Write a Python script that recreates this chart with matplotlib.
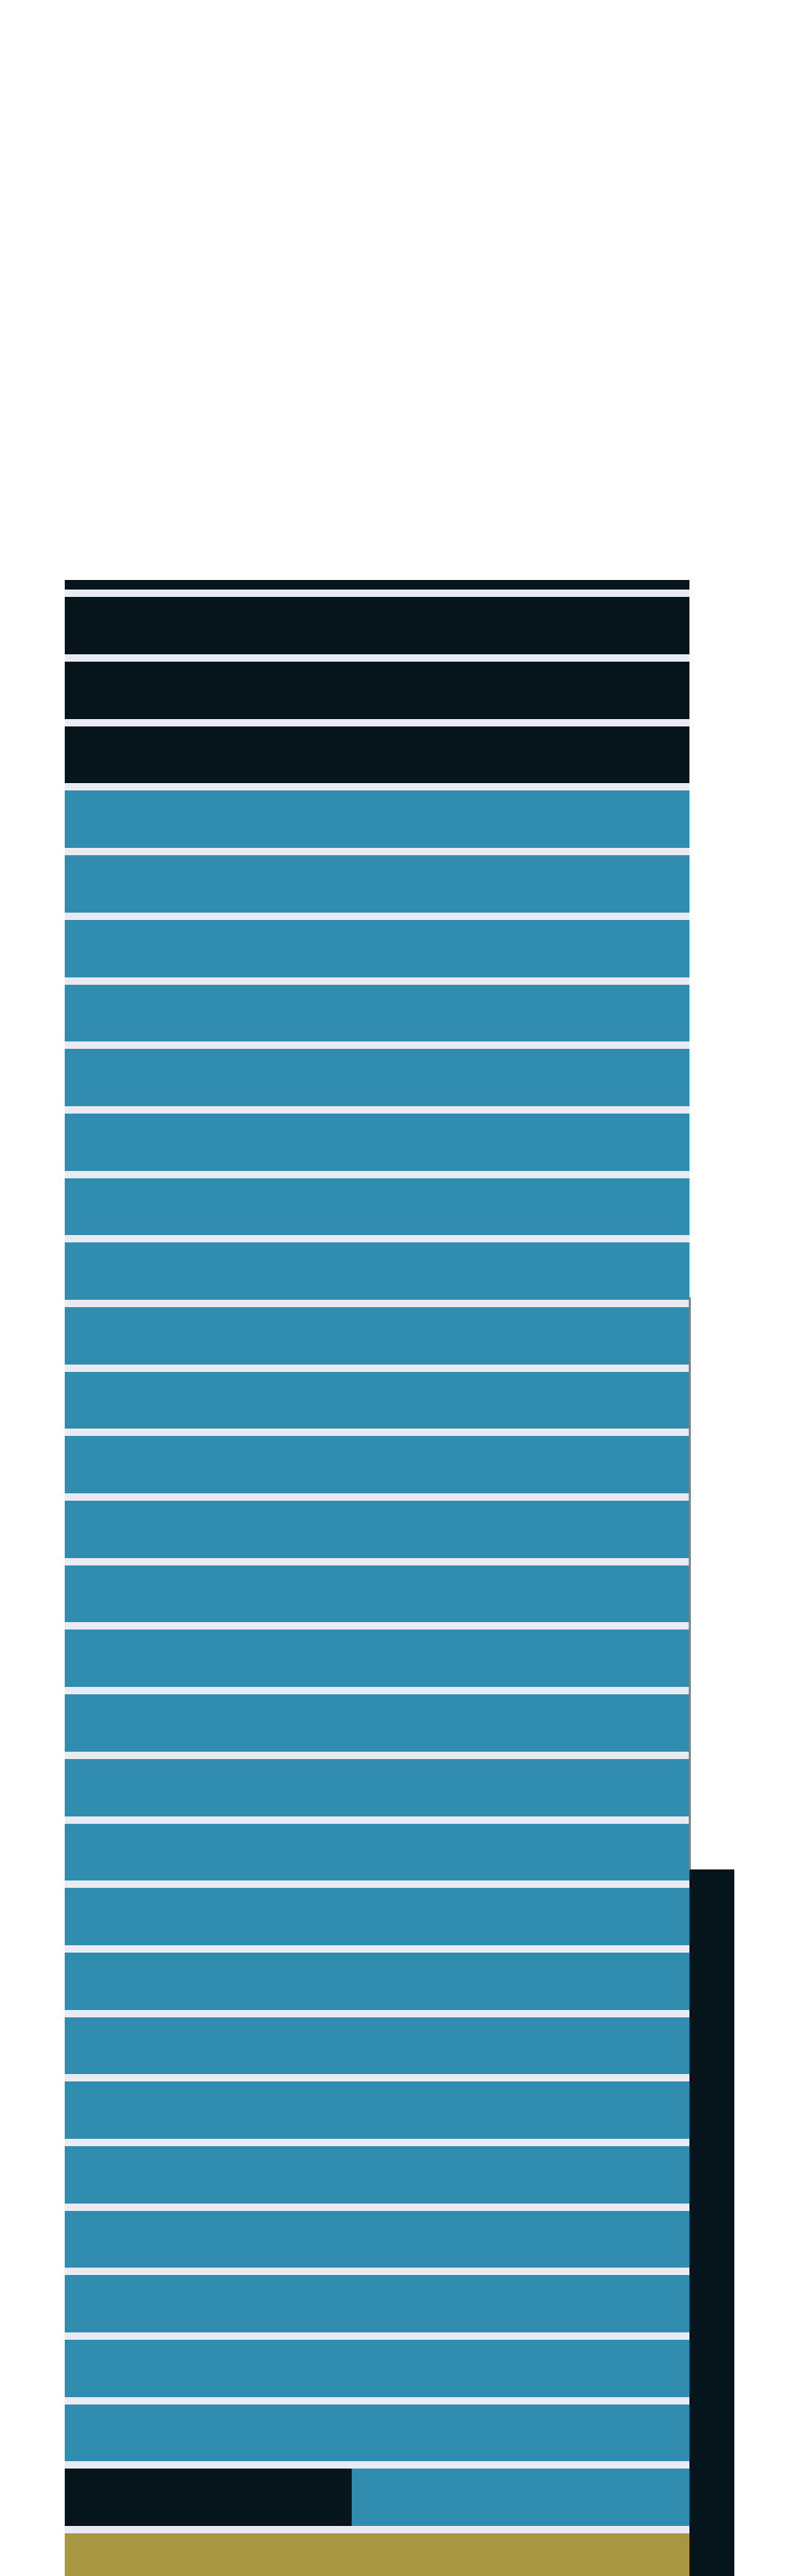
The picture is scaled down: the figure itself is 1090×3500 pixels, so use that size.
import numpy as np
import matplotlib.pyplot as plt

# one entry per floor, bottom to top (share of floor width, %)
floors = np.arange(32)
dark = [0, 45.9] + [0] * 26 + [100] * 4
blue = [0, 54.1] + [100] * 26 + [0] * 4
gold = [100] + [0] * 31

# column on the right side of the tower
side_width = 7.2
side_top = 10.73
# thin grey edge line above the column (floor units)
edge_line = [10.73, 19.6]

c_dark = "#06151c"
c_blue = "#318db0"
c_gold = "#a89642"

fig = plt.figure(figsize=(10.9, 35), dpi=100, facecolor="white")
ax = fig.add_axes([88 / 1090, 0, 849 / 1090, (3500 - 788) / 3500])
ax.set_facecolor("#eaeaf2")

dark = np.array(dark)
blue = np.array(blue)
gold = np.array(gold)
h = 0.886
ax.barh(floors, dark, height=h, left=0, color=c_dark, linewidth=0)
ax.barh(floors, blue, height=h, left=dark, color=c_blue, linewidth=0)
ax.barh(floors, gold, height=h, left=dark + blue, color=c_gold, linewidth=0)

# side column sticks out past the right edge of the axes
ax.bar(100 + side_width / 2, side_top + 1, width=side_width, bottom=-1,
       color=c_dark, linewidth=0, clip_on=False)
ax.plot([100, 100], edge_line, color="#7a8286", lw=2, clip_on=False,
        solid_capstyle="butt")

ax.set_xlim(0, 100)
ax.set_ylim(-0.217, 30.71)
ax.set_xticks([])
ax.set_yticks([])
for s in ax.spines.values():
    s.set_visible(False)

fig.savefig("out.png", dpi=100, facecolor="white")
